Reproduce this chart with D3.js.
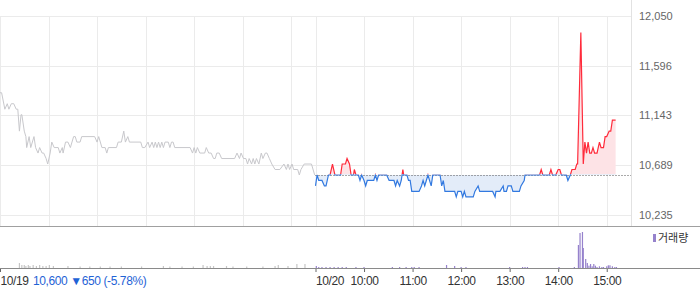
<!DOCTYPE html>
<html>
  <head>
    <meta charset="UTF-8">
    <title>intraday</title>
    <style>
      body {
        margin: 0;
        background: #fff;
        font: 12px "Liberation Sans", Arial, sans-serif;
      }
      svg text {
        fill: #333;
      }
      .yaxis text {
        fill: #666;
        font-size: 11px;
      }
      .xaxis text {
        font-size: 12px;
        letter-spacing: -0.4px;
      }
      .xaxis line {
        stroke: #666;
      }
    </style>
    <script src="https://d3js.org/d3.v7.min.js"></script>
  </head>
  <body>
    <script>
      // 10/19 session, minutes after 09:00
      var prevMin = [
        0, 2, 6, 9, 11, 14, 17, 20, 22, 24,
        26, 27, 30, 32, 33, 36, 38, 42, 44, 47,
        49, 52, 54, 57, 59, 62, 64, 67, 72, 74,
        77, 78, 81, 84, 87, 89, 91, 93, 95, 99,
        101, 117, 120, 122, 126, 130, 132, 134, 144, 146,
        150, 153, 155, 158, 160, 174, 176, 179, 183, 185,
        188, 190, 192, 194, 196, 198, 200, 202, 204, 208,
        210, 212, 214, 216, 235, 238, 240, 242, 244, 247,
        253, 255, 258, 261, 264, 266, 268, 271, 274, 290,
        293, 296, 298, 301, 304, 306, 308, 311, 313, 315,
        317, 320, 323, 325, 328, 330, 333, 336, 340, 346,
        351, 354, 356, 358, 361, 363, 368, 370, 372, 376,
        385, 389];
      var prevPrice = [
        11350, 11350, 11200, 11250, 11200, 11250, 11250, 11200, 11200, 11000,
        11150, 11150, 11000, 10950, 10850, 10950, 10850, 10950, 10850, 10800,
        10850, 10800, 10800, 10750, 10700, 10800, 10900, 10850, 10850, 10800,
        10850, 10800, 10900, 10900, 10850, 10900, 10950, 10950, 10900, 10900,
        10950, 10950, 10900, 10950, 10850, 10850, 10800, 10850, 10850, 10900,
        10900, 11000, 10900, 10950, 10900, 10900, 10850, 10850, 10900, 10850,
        10900, 10850, 10900, 10850, 10900, 10850, 10900, 10850, 10900, 10900,
        10850, 10900, 10900, 10850, 10850, 10800, 10850, 10800, 10850, 10800,
        10800, 10850, 10800, 10800, 10750, 10750, 10800, 10800, 10750, 10750,
        10800, 10750, 10800, 10750, 10750, 10700, 10750, 10700, 10750, 10700,
        10750, 10700, 10800, 10750, 10800, 10800, 10750, 10700, 10650, 10650,
        10700, 10650, 10700, 10650, 10700, 10650, 10650, 10600, 10650, 10700,
        10700, 10600];

      // 10/20 session, minutes after 09:00
      var todayMin = [
        0, 2, 4, 8, 11, 13, 16, 18, 21, 24,
        31, 33, 37, 39, 42, 44, 47, 48, 50, 53,
        55, 57, 60, 62, 64, 72, 74, 76, 78, 86,
        88, 91, 97, 99, 101, 104, 106, 108, 109, 113,
        115, 117, 119, 128, 131, 133, 135, 137, 139, 143,
        145, 154, 156, 158, 160, 172, 174, 176, 180, 182,
        184, 186, 195, 197, 201, 203, 219, 222, 223, 228,
        232, 233, 236, 238, 242, 244, 252, 254, 258, 259,
        277, 279, 281, 289, 291, 293, 297, 300, 302, 304,
        310, 312, 315, 317, 321, 323, 324, 328, 331, 333,
        335, 337, 339, 341, 343, 345, 348, 351, 353, 356,
        358, 360, 363, 365, 367, 371];
      var todayPrice = [
        10500, 10600, 10550, 10550, 10500, 10500, 10600, 10600, 10700, 10600,
        10600, 10700, 10700, 10750, 10700, 10600, 10600, 10650, 10600, 10600,
        10550, 10600, 10550, 10500, 10550, 10550, 10600, 10550, 10600, 10600,
        10600, 10550, 10550, 10500, 10550, 10500, 10550, 10650, 10600, 10600,
        10550, 10550, 10450, 10450, 10500, 10550, 10500, 10550, 10600, 10500,
        10600, 10600, 10500, 10550, 10450, 10450, 10400, 10450, 10450, 10400,
        10450, 10400, 10400, 10450, 10500, 10450, 10450, 10400, 10450, 10450,
        10500, 10450, 10450, 10500, 10500, 10450, 10450, 10500, 10550, 10600,
        10600, 10650, 10600, 10600, 10650, 10600, 10600, 10650, 10650, 10600,
        10600, 10550, 10600, 10650, 10650, 10700, 10700, 11900, 10700, 10900,
        10800, 10900, 10800, 10800, 10850, 10800, 10800, 10900, 10850, 10850,
        10950, 10950, 11000, 11000, 11100, 11100];

      // volume (thousand shares)
      var prevVolMin = [24, 27, 30, 32, 35, 37, 41, 45, 49, 53, 57, 61, 66, 84, 99, 111, 124, 136,
        150, 175, 202, 210, 225, 239, 251, 256, 260, 264, 280, 288, 305, 325, 340, 344, 356, 367, 377];
      var prevVol = [5, 3, 3, 2, 3, 2, 3, 2, 3, 2, 2, 3, 2, 2, 1.5, 1.5, 1.5, 1.5,
        1.5, 1.5, 2, 1.5, 1.5, 1.5, 3, 2, 2, 2, 2, 1.5, 1.5, 1.5, 2, 3, 2, 4, 4];
      var todayVolMin = [1, 4, 8, 13, 18, 23, 28, 33, 38, 50, 60, 95, 104, 112, 119, 122, 128,
        162, 172, 180, 186, 240, 256, 259, 262, 301, 320, 325, 327, 330, 331, 334, 336,
        338, 340, 342, 344, 346, 348, 351, 354, 356, 360, 362, 364, 367, 370, 372];
      var todayVol = [2, 1, 1, 1, 1, 1, 1, 1, 1, 1, 1, 1, 1, 1, 1, 1, 1,
        3, 2, 1, 1, 1, 1, 1, 1, 1, 1, 23, 35, 36, 20, 9, 5,
        2.3, 4, 1.7, 4, 2.3, 1, 1.7, 1, 1, 1.7, 2.7, 2.7, 1.7, 1, 1];

      var priceTicks = [10235, 10689, 11143, 11596, 12050];
      var hourTicks = [60, 120, 180, 240, 300, 360];
      var hourLabels = ["10:00", "11:00", "12:00", "13:00", "14:00", "15:00"];
      var prevDate = "10/19", todayDate = "10/20";
      var prevClose = 10600, prevChange = -650, prevRate = -5.78;
      var sessionLen = 390;

      var width = 700, height = 289;
      var plotRight = 631, priceBottom = 226, volTop = 228, volBottom = 268;

      var svg = d3.select("body").append("svg")
        .attr("width", width)
        .attr("height", height);

      var x = d3.scaleLinear().domain([0, sessionLen * 2]).range([0, plotRight]);
      var y = d3.scaleLinear().domain([10235, 12050]).range([215, 16]);
      var yv = d3.scaleLinear().domain([0, 40]).range([volBottom, volTop]);
      var fmt = d3.format(",");

      // grid
      var grid = svg.append("g").attr("class", "grid");
      grid.selectAll(".h").data(priceTicks)
        .enter().append("line")
          .attr("x1", 0).attr("x2", plotRight)
          .attr("y1", function(d) { return Math.round(y(d)) + 0.5; })
          .attr("y2", function(d) { return Math.round(y(d)) + 0.5; })
          .style("stroke", "#ebebeb");
      var vLines = [0].concat(hourTicks, [sessionLen], hourTicks.map(function(d) { return d + sessionLen; }));
      grid.selectAll(".v").data(vLines)
        .enter().append("line")
          .attr("x1", function(d) { return Math.round(x(d)) + 0.5; })
          .attr("x2", function(d) { return Math.round(x(d)) + 0.5; })
          .attr("y1", 16).attr("y2", priceBottom)
          .style("stroke", "#ebebeb");
      svg.append("line")
        .attr("x1", plotRight + 0.5).attr("x2", plotRight + 0.5)
        .attr("y1", 0).attr("y2", priceBottom)
        .style("stroke", "#e2e2e2");

      // y labels
      svg.append("g").attr("class", "yaxis")
        .selectAll("text").data(priceTicks)
        .enter().append("text")
          .attr("x", 639)
          .attr("y", function(d) { return y(d); })
          .attr("dy", "0.35em")
          .text(function(d) { return fmt(d); });

      // previous session line
      var prevData = prevMin.map(function(m, i) { return [m, prevPrice[i]]; });
      var todayData = todayMin.map(function(m, i) { return [m + sessionLen, todayPrice[i]]; });

      var line = d3.line()
        .x(function(d) { return x(d[0]); })
        .y(function(d) { return y(d[1]); });

      svg.append("path")
        .datum(prevData)
        .attr("d", line)
        .style("fill", "none")
        .style("stroke", "#c8c8cc")
        .style("stroke-width", 1);

      // today: red above previous close, blue below
      var y0 = y(prevClose);
      var defs = svg.append("defs");
      defs.append("clipPath").attr("id", "up")
        .append("rect").attr("x", 0).attr("y", 0).attr("width", plotRight).attr("height", y0 - 0.7);
      defs.append("clipPath").attr("id", "down")
        .append("rect").attr("x", 0).attr("y", y0 - 0.7).attr("width", plotRight).attr("height", priceBottom - y0);

      var area = d3.area()
        .x(function(d) { return x(d[0]); })
        .y0(y0)
        .y1(function(d) { return y(d[1]); });

      svg.append("path").datum(todayData).attr("d", area)
        .attr("clip-path", "url(#up)").style("fill", "#fde3e6");
      svg.append("path").datum(todayData).attr("d", area)
        .attr("clip-path", "url(#down)").style("fill", "#e3ecf9");

      svg.append("line")
        .attr("x1", x(sessionLen)).attr("x2", plotRight)
        .attr("y1", Math.round(y0) + 0.5).attr("y2", Math.round(y0) + 0.5)
        .style("stroke", "#555")
        .style("stroke-dasharray", "1,2");

      svg.append("path").datum(todayData).attr("d", line)
        .attr("clip-path", "url(#up)")
        .style("fill", "none").style("stroke", "#ff2b3b").style("stroke-width", 1.2);
      svg.append("path").datum(todayData).attr("d", line)
        .attr("clip-path", "url(#down)")
        .style("fill", "none").style("stroke", "#3279e0").style("stroke-width", 1.2);

      // panel separators
      svg.append("line")
        .attr("x1", 0).attr("x2", width)
        .attr("y1", priceBottom + 0.5).attr("y2", priceBottom + 0.5)
        .style("stroke", "#a0a0a0");

      // volume
      svg.selectAll(".pv").data(prevVolMin)
        .enter().append("rect")
          .attr("x", function(d) { return x(d) - 0.6; })
          .attr("y", function(d, i) { return yv(prevVol[i]); })
          .attr("width", 1.2)
          .attr("height", function(d, i) { return volBottom - yv(prevVol[i]); })
          .style("fill", "#c6c6c6");
      svg.selectAll(".tv").data(todayVolMin)
        .enter().append("rect")
          .attr("x", function(d) { return x(d + sessionLen) - 0.6; })
          .attr("y", function(d, i) { return yv(todayVol[i]); })
          .attr("width", 1.2)
          .attr("height", function(d, i) { return volBottom - yv(todayVol[i]); })
          .style("fill", "#9682cc");

      svg.append("rect").attr("x", 653).attr("y", 234).attr("width", 3).attr("height", 8)
        .style("fill", "#9682cc");
      svg.append("text").attr("x", 658).attr("y", 242)
        .style("font-family", "'Noto Sans CJK KR', sans-serif")
        .style("font-size", "11px")
        .text("거래량");

      // x axis
      var xTicks = [0, sessionLen].concat(hourTicks.map(function(d) { return d + sessionLen; }));
      var xAxis = d3.axisBottom(x)
        .tickValues(xTicks)
        .tickSize(4)
        .tickFormat(function(d) {
          if (d === 0) return prevDate;
          if (d === sessionLen) return todayDate;
          return hourLabels[hourTicks.indexOf(d - sessionLen)];
        });
      var gx = svg.append("g")
        .attr("class", "xaxis")
        .attr("transform", "translate(0," + volBottom + ")")
        .call(xAxis);
      gx.select(".domain").remove();
      gx.selectAll("text")
        .attr("y", 8)
        .style("font-family", "'Liberation Sans', Arial, sans-serif")
        .style("fill", "#333")
        .style("text-anchor", function(d) { return d <= sessionLen ? "start" : "middle"; });
      gx.selectAll(".tick").filter(function(d) { return d === 0; })
        .attr("transform", "translate(0.5,0)");

      svg.append("line")
        .attr("x1", 0).attr("x2", width)
        .attr("y1", volBottom + 0.5).attr("y2", volBottom + 0.5)
        .style("stroke", "#8a8a8a");

      svg.append("text")
        .attr("x", 33).attr("y", 285)
        .style("fill", "#1f63d6")
        .style("letter-spacing", "-0.4px")
        .text(fmt(prevClose) + " \u25BC" + fmt(Math.abs(prevChange)) + " (" + prevRate.toFixed(2) + "%)");
    </script>
  </body>
</html>
